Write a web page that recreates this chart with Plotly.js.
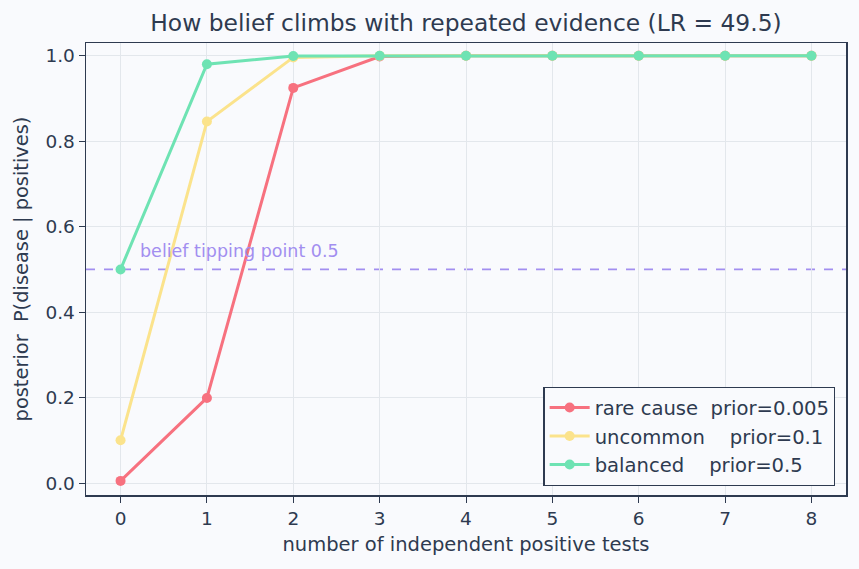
<!DOCTYPE html>
<html>
<head>
<meta charset="utf-8">
<script src="https://cdn.plot.ly/plotly-3.0.1.min.js"></script>
<style>
  html, body { margin: 0; padding: 0; background: #f9fafd; }
  #chart { width: 859px; height: 569px; }
</style>
</head>
<body>
<div id="chart"></div>
<script>
// Number of independent positive tests
const tests = [0, 1, 2, 3, 4, 5, 6, 7, 8];

// Posterior P(disease | positives) after n tests, LR = 49.5
const rareCause = [0.005, 0.1992, 0.9249, 0.9984, 1.0000, 1.0000, 1.0000, 1.0000, 1.0000];
const uncommon  = [0.1,   0.8462, 0.9963, 0.9999, 1.0000, 1.0000, 1.0000, 1.0000, 1.0000];
const balanced  = [0.5,   0.9802, 0.9996, 1.0000, 1.0000, 1.0000, 1.0000, 1.0000, 1.0000];

const seriesNames = [
  "rare cause  prior=0.005",
  "uncommon    prior=0.1",
  "balanced    prior=0.5"
];
const seriesColors = ["#f7717f", "#fbe38c", "#6ee3b3"];
const seriesValues = [rareCause, uncommon, balanced];

const yTicks = [0, 0.2, 0.4, 0.6, 0.8, 1.0];
const yTickText = ["0.0", "0.2", "0.4", "0.6", "0.8", "1.0"];

const tippingPoint = 0.5;
const tippingLabel = "belief tipping point 0.5";

const ink = "#2e3a50";
const font = "DejaVu Sans, Verdana, sans-serif";

const traces = seriesValues.map((vals, i) => ({
  x: tests,
  y: vals,
  name: seriesNames[i].replace(/ /g, "\u00a0"),
  type: "scatter",
  mode: "lines+markers",
  line: { color: seriesColors[i], width: 3 },
  marker: { color: seriesColors[i], size: 10 }
}));

const layout = {
  width: 859,
  height: 569,
  paper_bgcolor: "#f9fafd",
  plot_bgcolor: "#f9fafd",
  font: { family: font, color: ink, size: 18 },
  margin: { l: 86, r: 13, t: 43, b: 74 },
  title: {
    text: "How belief climbs with repeated evidence (LR = 49.5)",
    font: { family: font, size: 23.4, color: ink },
    xref: "paper", x: 0.5, xanchor: "center", y: 0.96, yanchor: "middle"
  },
  xaxis: {
    title: { text: "number of independent positive tests", font: { size: 19.5, color: ink }, standoff: 9 },
    range: [-0.4, 8.4],
    tickvals: tests,
    ticktext: tests.map(String),
    ticks: "outside", ticklen: 6, tickwidth: 1, tickcolor: ink,
    tickfont: { size: 18.5, color: ink },
    showgrid: true, gridcolor: "#e3e7ec", gridwidth: 1,
    zeroline: false,
    showline: true, linecolor: ink, linewidth: 1.5, mirror: true
  },
  yaxis: {
    title: { text: "posterior  P(disease | positives)", font: { size: 19.4, color: ink }, standoff: 11 },
    range: [-0.028, 1.03],
    tickvals: yTicks,
    ticktext: yTickText,
    ticks: "outside", ticklen: 6, tickwidth: 1, tickcolor: ink,
    tickfont: { size: 18.5, color: ink },
    showgrid: true, gridcolor: "#e3e7ec", gridwidth: 1,
    zeroline: false,
    showline: true, linecolor: ink, linewidth: 1.5, mirror: true
  },
  shapes: [{
    type: "line", xref: "paper", x0: 0, x1: 1,
    yref: "y", y0: tippingPoint, y1: tippingPoint,
    line: { color: "#a28ef0", width: 1.8, dash: "dash" },
    layer: "below"
  }],
  annotations: [{
    xref: "x", yref: "y", x: 0.2, y: tippingPoint + 0.043,
    text: tippingLabel, showarrow: false,
    xanchor: "left", yanchor: "middle",
    font: { family: font, size: 17.5, color: "#a28ef0" }
  }],
  legend: {
    x: 0.986, y: 0.02, xanchor: "right", yanchor: "bottom",
    bgcolor: "#f9fafd", bordercolor: ink, borderwidth: 1.3,
    font: { family: font, size: 19.6, color: ink },
    itemwidth: 40, tracegroupgap: 0
  },
  showlegend: true
};

Plotly.newPlot("chart", traces, layout, { displayModeBar: false, staticPlot: true });
</script>
</body>
</html>
